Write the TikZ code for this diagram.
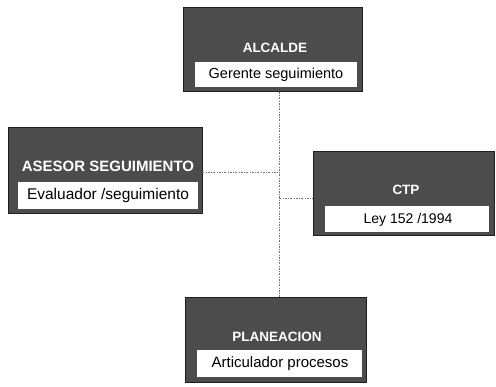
\documentclass[tikz,border=0pt]{standalone}
\usepackage{fontspec}
\setmainfont{Liberation Sans}
\begin{document}
\begin{tikzpicture}[x=1pt,y=-1pt,
  outerbox/.style={fill=black!70,draw=black!88,line width=1pt},
  innerbox/.style={fill=white,draw=none},
  titletext/.style={text=white,font=\fontsize{13.5}{15}\selectfont\bfseries,inner sep=0pt},
  bodytext/.style={text=black,font=\fontsize{14.5}{16}\selectfont,inner sep=0pt},
  conn/.style={draw=black!55,line width=0.5pt,dash pattern=on 2pt off 1.5pt on 0.5pt off 1.5pt}]
\useasboundingbox[fill=white] (0,0) rectangle (496,387);
% top
\draw[outerbox] (183,8) rectangle (362,92);
\fill[innerbox] (195,62) rectangle (357,87);
\node[titletext] (alc) at (275,48) {ALCALDE};
\node[bodytext] (ger) at (276,75) {Gerente seguimiento};
\coordinate (topb) at (279,92);
% left
\draw[outerbox] (8,128) rectangle (202,214);
\fill[innerbox] (18,182) rectangle (198,209);
\node[titletext,font=\fontsize{15}{17}\selectfont\bfseries] (ase) at (108,166) {ASESOR SEGUIMIENTO};
\node[bodytext,font=\fontsize{15.5}{17}\selectfont] (eva) at (108,195.5) {Evaluador /seguimiento};
\coordinate (leftr) at (202,172);
% right
\draw[outerbox] (313,152) rectangle (494,236);
\fill[innerbox] (325,206) rectangle (489,232);
\node[titletext] (ctp) at (406,190) {CTP};
\node[bodytext,font=\fontsize{14}{16}\selectfont] (ley) at (408,220) {Ley 152 /1994};
\coordinate (rightl) at (313,198);
% bottom
\draw[outerbox] (185,298) rectangle (366,383);
\fill[innerbox] (197,350) rectangle (362,377);
\node[titletext] (pla) at (277,337) {PLANEACION};
\node[bodytext,font=\fontsize{15}{17}\selectfont] (art) at (280,364) {Articulador procesos};
\coordinate (botb) at (279,298);
% connectors
\coordinate (j1) at (279,172);
\coordinate (j2) at (279,198);
\draw[conn] (topb) -- (botb);
\draw[conn] (leftr) -- (j1);
\draw[conn] (j2) -- (rightl);
\end{tikzpicture}
\end{document}
